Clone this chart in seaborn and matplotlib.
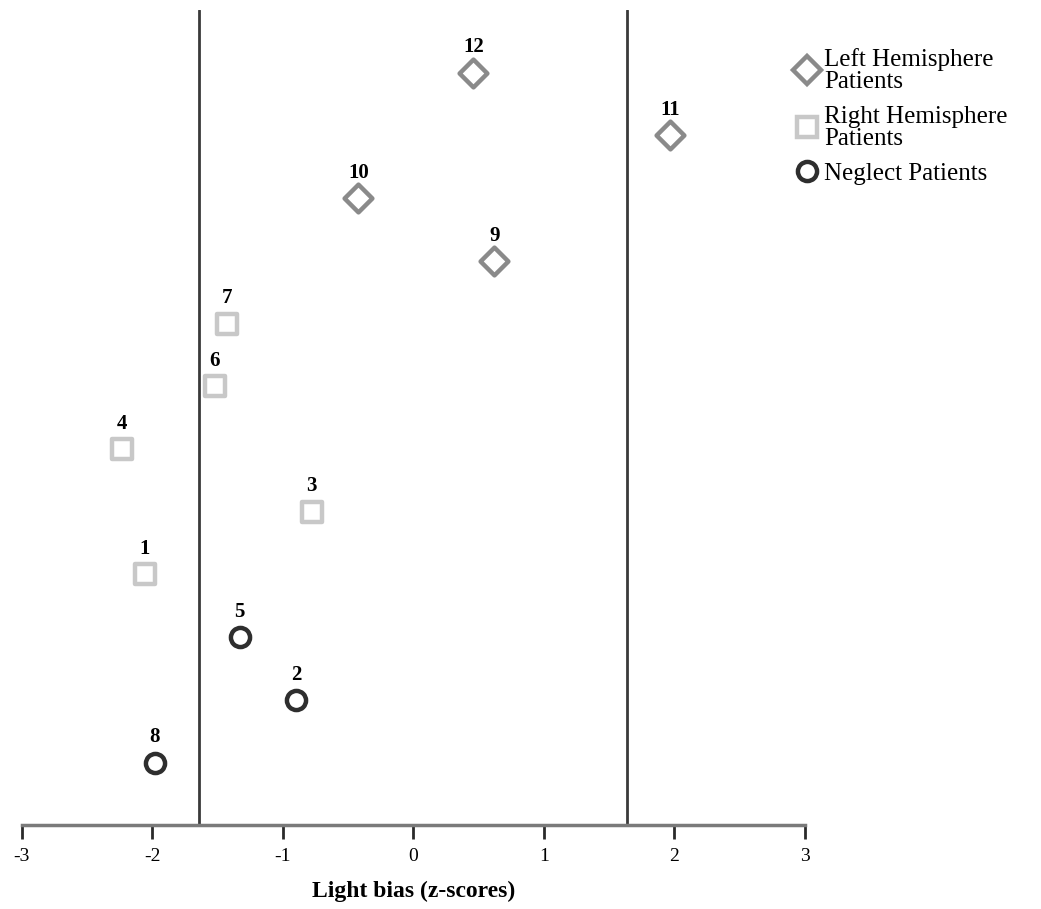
import matplotlib
matplotlib.use('Agg')
import matplotlib.pyplot as plt
from matplotlib.lines import Line2D
import seaborn as sns
import pandas as pd

# patient data
patients = [12, 11, 10, 9, 7, 6, 4, 3, 1, 5, 2, 8]
bias = [0.46, 1.97, -0.42, 0.62, -1.43, -1.52, -2.23, -0.78, -2.06, -1.33, -0.90, -1.98]
rank = [12, 11, 10, 9, 8, 7, 6, 5, 4, 3, 2, 1]
group = ['Left', 'Left', 'Left', 'Left', 'Right', 'Right', 'Right', 'Right', 'Right',
         'Neglect', 'Neglect', 'Neglect']

group_names = ['Left', 'Right', 'Neglect']
legend_labels = ['Left Hemisphere\nPatients', 'Right Hemisphere\nPatients', 'Neglect Patients']
markers = {'Left': 'D', 'Right': 's', 'Neglect': 'o'}
colors = {'Left': '#8a8a8a', 'Right': '#c8c8c8', 'Neglect': '#2e2e2e'}
sizes = {'Left': 200, 'Right': 190, 'Neglect': 190}

cutoff = 1.64

data = pd.DataFrame({'patient': patients, 'bias': bias, 'rank': rank, 'group': group})

sns.set_style('white')
plt.rcParams['font.family'] = ['Liberation Serif', 'DejaVu Serif']
plt.rcParams['text.color'] = 'black'
plt.rcParams['xtick.color'] = 'black'
plt.rcParams['axes.labelcolor'] = 'black'

fig = plt.figure(figsize=(10.41, 9.09), dpi=100)
ax = fig.add_axes([0.021, 0.092, 0.752, 0.897])

handles = []
for g, lab in zip(group_names, legend_labels):
    sub = data[data['group'] == g]
    sns.scatterplot(x='bias', y='rank', data=sub, marker=markers[g], s=sizes[g],
                    color='white', edgecolor=colors[g], linewidth=3.2, ax=ax,
                    zorder=3, legend=False)
    handles.append(Line2D([], [], linestyle='none', marker=markers[g],
                          markersize=(sizes[g] ** 0.5), markerfacecolor='white',
                          markeredgecolor=colors[g], markeredgewidth=3.2, label=lab))

for _, r in data.iterrows():
    ax.annotate(str(r['patient']), (r['bias'], r['rank']), xytext=(0, 11),
                textcoords='offset points', ha='center', va='bottom',
                fontsize=15, fontweight='bold', color='black')

ax.axvline(-cutoff, color='#3a3a3a', linewidth=2, zorder=1)
ax.axvline(cutoff, color='#3a3a3a', linewidth=2, zorder=1)

ax.set_xlim(-3, 3)
ax.set_ylim(0, 13)
ax.set_xticks([-3, -2, -1, 0, 1, 2, 3])
ax.set_xticklabels(['-3', '-2', '-1', '0', '1', '2', '3'], fontsize=14)
ax.set_yticks([])
ax.set_ylabel('')
ax.set_xlabel('Light bias (z-scores)', fontsize=17, fontweight='bold', labelpad=12)

for s in ['top', 'right', 'left']:
    ax.spines[s].set_visible(False)
ax.spines['bottom'].set_color('#7a7a7a')
ax.spines['bottom'].set_linewidth(2.5)
ax.tick_params(axis='x', direction='out', length=10, width=2, color='#2a2a2a',
               bottom=True, pad=6)

leg = fig.legend(handles=handles, loc='upper left', bbox_to_anchor=(0.752, 0.958),
                 frameon=False, fontsize=18, handletextpad=0.15, labelspacing=0.5,
                 borderaxespad=0, handlelength=1.1)
for t in leg.get_texts():
    t.set_linespacing(1.0)

fig.savefig('out.png', dpi=100, facecolor='white')
